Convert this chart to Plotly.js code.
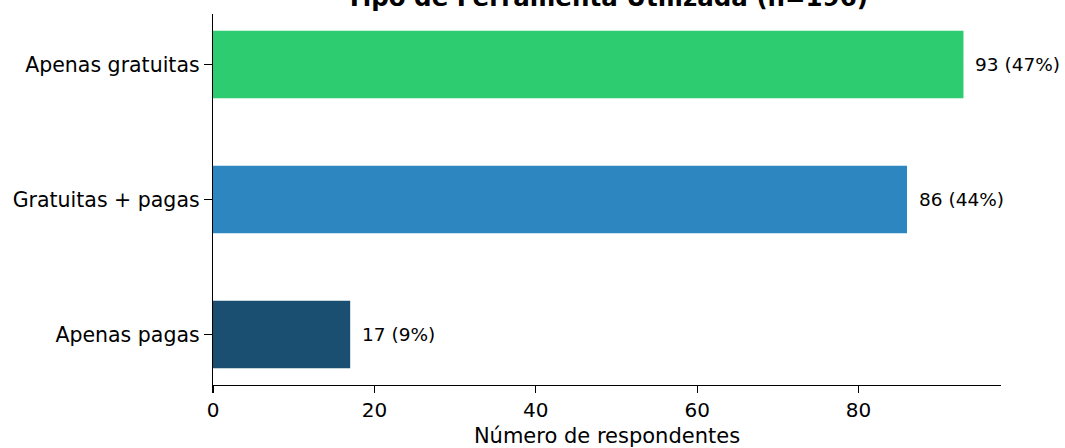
<!DOCTYPE html>
<html><head><meta charset="utf-8">
<script src="https://cdn.plot.ly/plotly-3.0.1.min.js"></script>
<style>html,body{margin:0;padding:0;background:#fff}</style>
</head><body>
<div id="chart" style="width:1065px;height:448px"></div>
<script>
const categories = ["Apenas pagas", "Gratuitas + pagas", "Apenas gratuitas"];
const counts = [17, 86, 93];
const labels = ["17 (9%)", "86 (44%)", "93 (47%)"];
const colors = ["#1b4f72", "#2e86c1", "#2ecc71"];
const titleText = "Tipo de Ferramenta Utilizada (n=196)";
const xTitle = "Número de respondentes";

const font = "DejaVu Sans, sans-serif";
const trace = {
  type: "bar", orientation: "h",
  x: counts, y: categories,
  marker: {color: colors, line: {width: 0}},
  width: 0.5, hoverinfo: "skip"
};
const annotations = categories.map((c, i) => ({
  x: counts[i], y: c, xref: "x", yref: "y",
  text: labels[i], showarrow: false, xanchor: "left", yanchor: "middle",
  xshift: 10, font: {family: font, size: 18.5, color: "#000"}
}));
const layout = {
  width: 1065, height: 448,
  margin: {l: 213, r: 64, t: 14, b: 63},
  paper_bgcolor: "#fff", plot_bgcolor: "#fff",
  showlegend: false,
  title: {text: "<b>" + titleText + "</b>", font: {family: font, size: 24.5, color: "#000"},
    x: 607/1065, xanchor: "center", xref: "container", yref: "container", y: 1 - 6/448, yanchor: "bottom"},
  xaxis: {range: [0, 97.65], tickvals: [0, 20, 40, 60, 80], showgrid: false, zeroline: false,
    showline: true, linecolor: "#000", linewidth: 1.25, ticks: "outside", ticklen: 7, tickwidth: 1.25, tickcolor: "#000",
    tickfont: {family: font, size: 20, color: "#000"},
    title: {text: xTitle, font: {family: font, size: 21, color: "#000"}, standoff: 10}},
  yaxis: {type: "category", categoryorder: "array", categoryarray: categories, range: [-0.375, 2.375],
    showgrid: false, zeroline: false, showline: true, linecolor: "#000", linewidth: 1.25,
    ticks: "outside", ticklen: 8, tickwidth: 1.25, tickcolor: "#000",
    tickfont: {family: font, size: 20.5, color: "#000"}},
  annotations: annotations
};
Plotly.newPlot("chart", [trace], layout, {displayModeBar: false, staticPlot: true});
</script>
</body></html>
